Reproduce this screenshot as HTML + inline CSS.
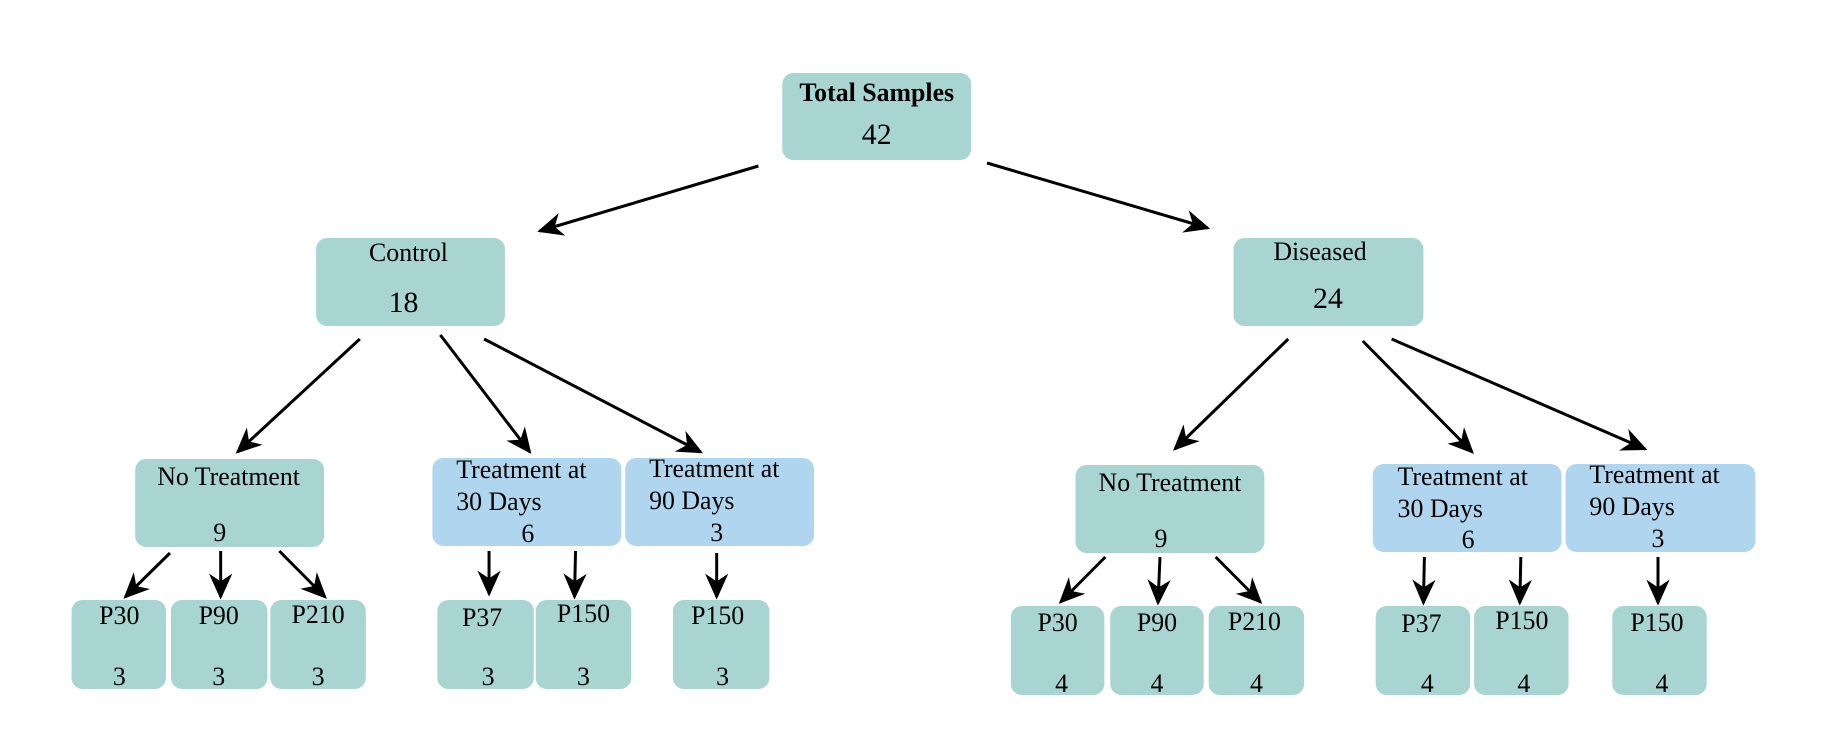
<!DOCTYPE html>
<html><head><meta charset="utf-8"><style>
html,body{margin:0;padding:0;background:#fff;}
svg text{font-family:"Liberation Serif",serif;fill:#000;}
</style></head><body>
<svg width="1840" height="724" viewBox="0 0 1840 724" xmlns="http://www.w3.org/2000/svg">
<defs>
<marker id="h" viewBox="0 0 20 20" refX="18" refY="10" markerWidth="26" markerHeight="26" orient="auto" markerUnits="userSpaceOnUse">
<path d="M0,1 L20,10 L0,19 L6,10 Z" fill="#000"/>
</marker>
</defs>
<g transform="scale(0.994,1)">
<g fill="#a8d5d1">
<rect x="787" y="73" width="190" height="87" rx="11"/>
<rect x="318" y="238" width="190" height="88" rx="11"/>
<rect x="1241" y="238" width="191" height="88" rx="11"/>
<rect x="136" y="459" width="190" height="88" rx="11"/>
<rect x="1082" y="465" width="190" height="88" rx="11"/>
<rect x="72" y="600" width="95" height="89" rx="11"/>
<rect x="172" y="600" width="97" height="89" rx="11"/>
<rect x="272" y="600" width="96" height="89" rx="11"/>
<rect x="440" y="600" width="97" height="89" rx="11"/>
<rect x="539" y="600" width="96" height="89" rx="11"/>
<rect x="677" y="600" width="97" height="89" rx="11"/>
<rect x="1017" y="606" width="94" height="89" rx="11"/>
<rect x="1117" y="606" width="94" height="89" rx="11"/>
<rect x="1216" y="606" width="96" height="89" rx="11"/>
<rect x="1384" y="606" width="95" height="89" rx="11"/>
<rect x="1483" y="606" width="95" height="89" rx="11"/>
<rect x="1622" y="606" width="95" height="89" rx="11"/>
</g>
<g fill="#afd6ee">
<rect x="435" y="458" width="190" height="88" rx="11"/>
<rect x="629" y="458" width="190" height="88" rx="11"/>
<rect x="1381" y="464" width="190" height="88" rx="11"/>
<rect x="1575" y="464" width="191" height="88" rx="11"/>
</g>
<g stroke="#000" stroke-width="3" marker-end="url(#h)">
<line x1="763" y1="166" x2="543" y2="231"/>
<line x1="993" y1="163" x2="1215" y2="228"/>
<line x1="362" y1="339" x2="239" y2="452"/>
<line x1="443" y1="335" x2="533" y2="452"/>
<line x1="487" y1="339" x2="705" y2="452"/>
<line x1="1296" y1="339" x2="1182" y2="449"/>
<line x1="1371" y1="341" x2="1481" y2="452"/>
<line x1="1400" y1="339" x2="1655" y2="449"/>
<line x1="171" y1="553" x2="126" y2="597"/>
<line x1="222" y1="551" x2="222" y2="597"/>
<line x1="281" y1="551" x2="327" y2="597"/>
<line x1="492" y1="551" x2="492" y2="594"/>
<line x1="579" y1="551" x2="578" y2="597"/>
<line x1="721" y1="553" x2="721" y2="597"/>
<line x1="1112" y1="557" x2="1067" y2="602"/>
<line x1="1167" y1="557" x2="1165" y2="603"/>
<line x1="1223" y1="557" x2="1268" y2="602"/>
<line x1="1433" y1="557" x2="1432" y2="603"/>
<line x1="1530" y1="557" x2="1529" y2="603"/>
<line x1="1668" y1="557" x2="1668" y2="603"/>
</g>
<g font-size="26">
<text x="882" y="101" text-anchor="middle" font-weight="bold">Total Samples</text>
<text x="882" y="144" text-anchor="middle" font-size="30">42</text>
<text x="411" y="261" text-anchor="middle">Control</text>
<text x="406" y="312" text-anchor="middle" font-size="30">18</text>
<text x="1328" y="260" text-anchor="middle">Diseased</text>
<text x="1336" y="308" text-anchor="middle" font-size="30">24</text>
<text x="230" y="485" text-anchor="middle">No Treatment</text>
<text x="221" y="541" text-anchor="middle">9</text>
<text x="1177" y="491" text-anchor="middle">No Treatment</text>
<text x="1168" y="547" text-anchor="middle">9</text>
<text x="459" y="478">Treatment at</text>
<text x="459" y="510">30 Days</text>
<text x="531" y="542" text-anchor="middle">6</text>
<text x="653" y="477">Treatment at</text>
<text x="653" y="509">90 Days</text>
<text x="721" y="541" text-anchor="middle">3</text>
<text x="1406" y="485">Treatment at</text>
<text x="1406" y="517">30 Days</text>
<text x="1477" y="548" text-anchor="middle">6</text>
<text x="1599" y="483">Treatment at</text>
<text x="1599" y="515">90 Days</text>
<text x="1668" y="547" text-anchor="middle">3</text>
<g text-anchor="middle">
<text x="120" y="624">P30</text><text x="120" y="685">3</text>
<text x="220" y="624">P90</text><text x="220" y="685">3</text>
<text x="320" y="623">P210</text><text x="320" y="685">3</text>
<text x="485" y="626">P37</text><text x="491" y="685">3</text>
<text x="587" y="622">P150</text><text x="587" y="685">3</text>
<text x="722" y="624">P150</text><text x="727" y="685">3</text>
<text x="1064" y="631">P30</text><text x="1068" y="692">4</text>
<text x="1164" y="631">P90</text><text x="1164" y="692">4</text>
<text x="1262" y="630">P210</text><text x="1264" y="692">4</text>
<text x="1430" y="632">P37</text><text x="1436" y="692">4</text>
<text x="1531" y="629">P150</text><text x="1533" y="692">4</text>
<text x="1667" y="631">P150</text><text x="1672" y="692">4</text>
</g>
</g>
</g>
</svg>
</body></html>
